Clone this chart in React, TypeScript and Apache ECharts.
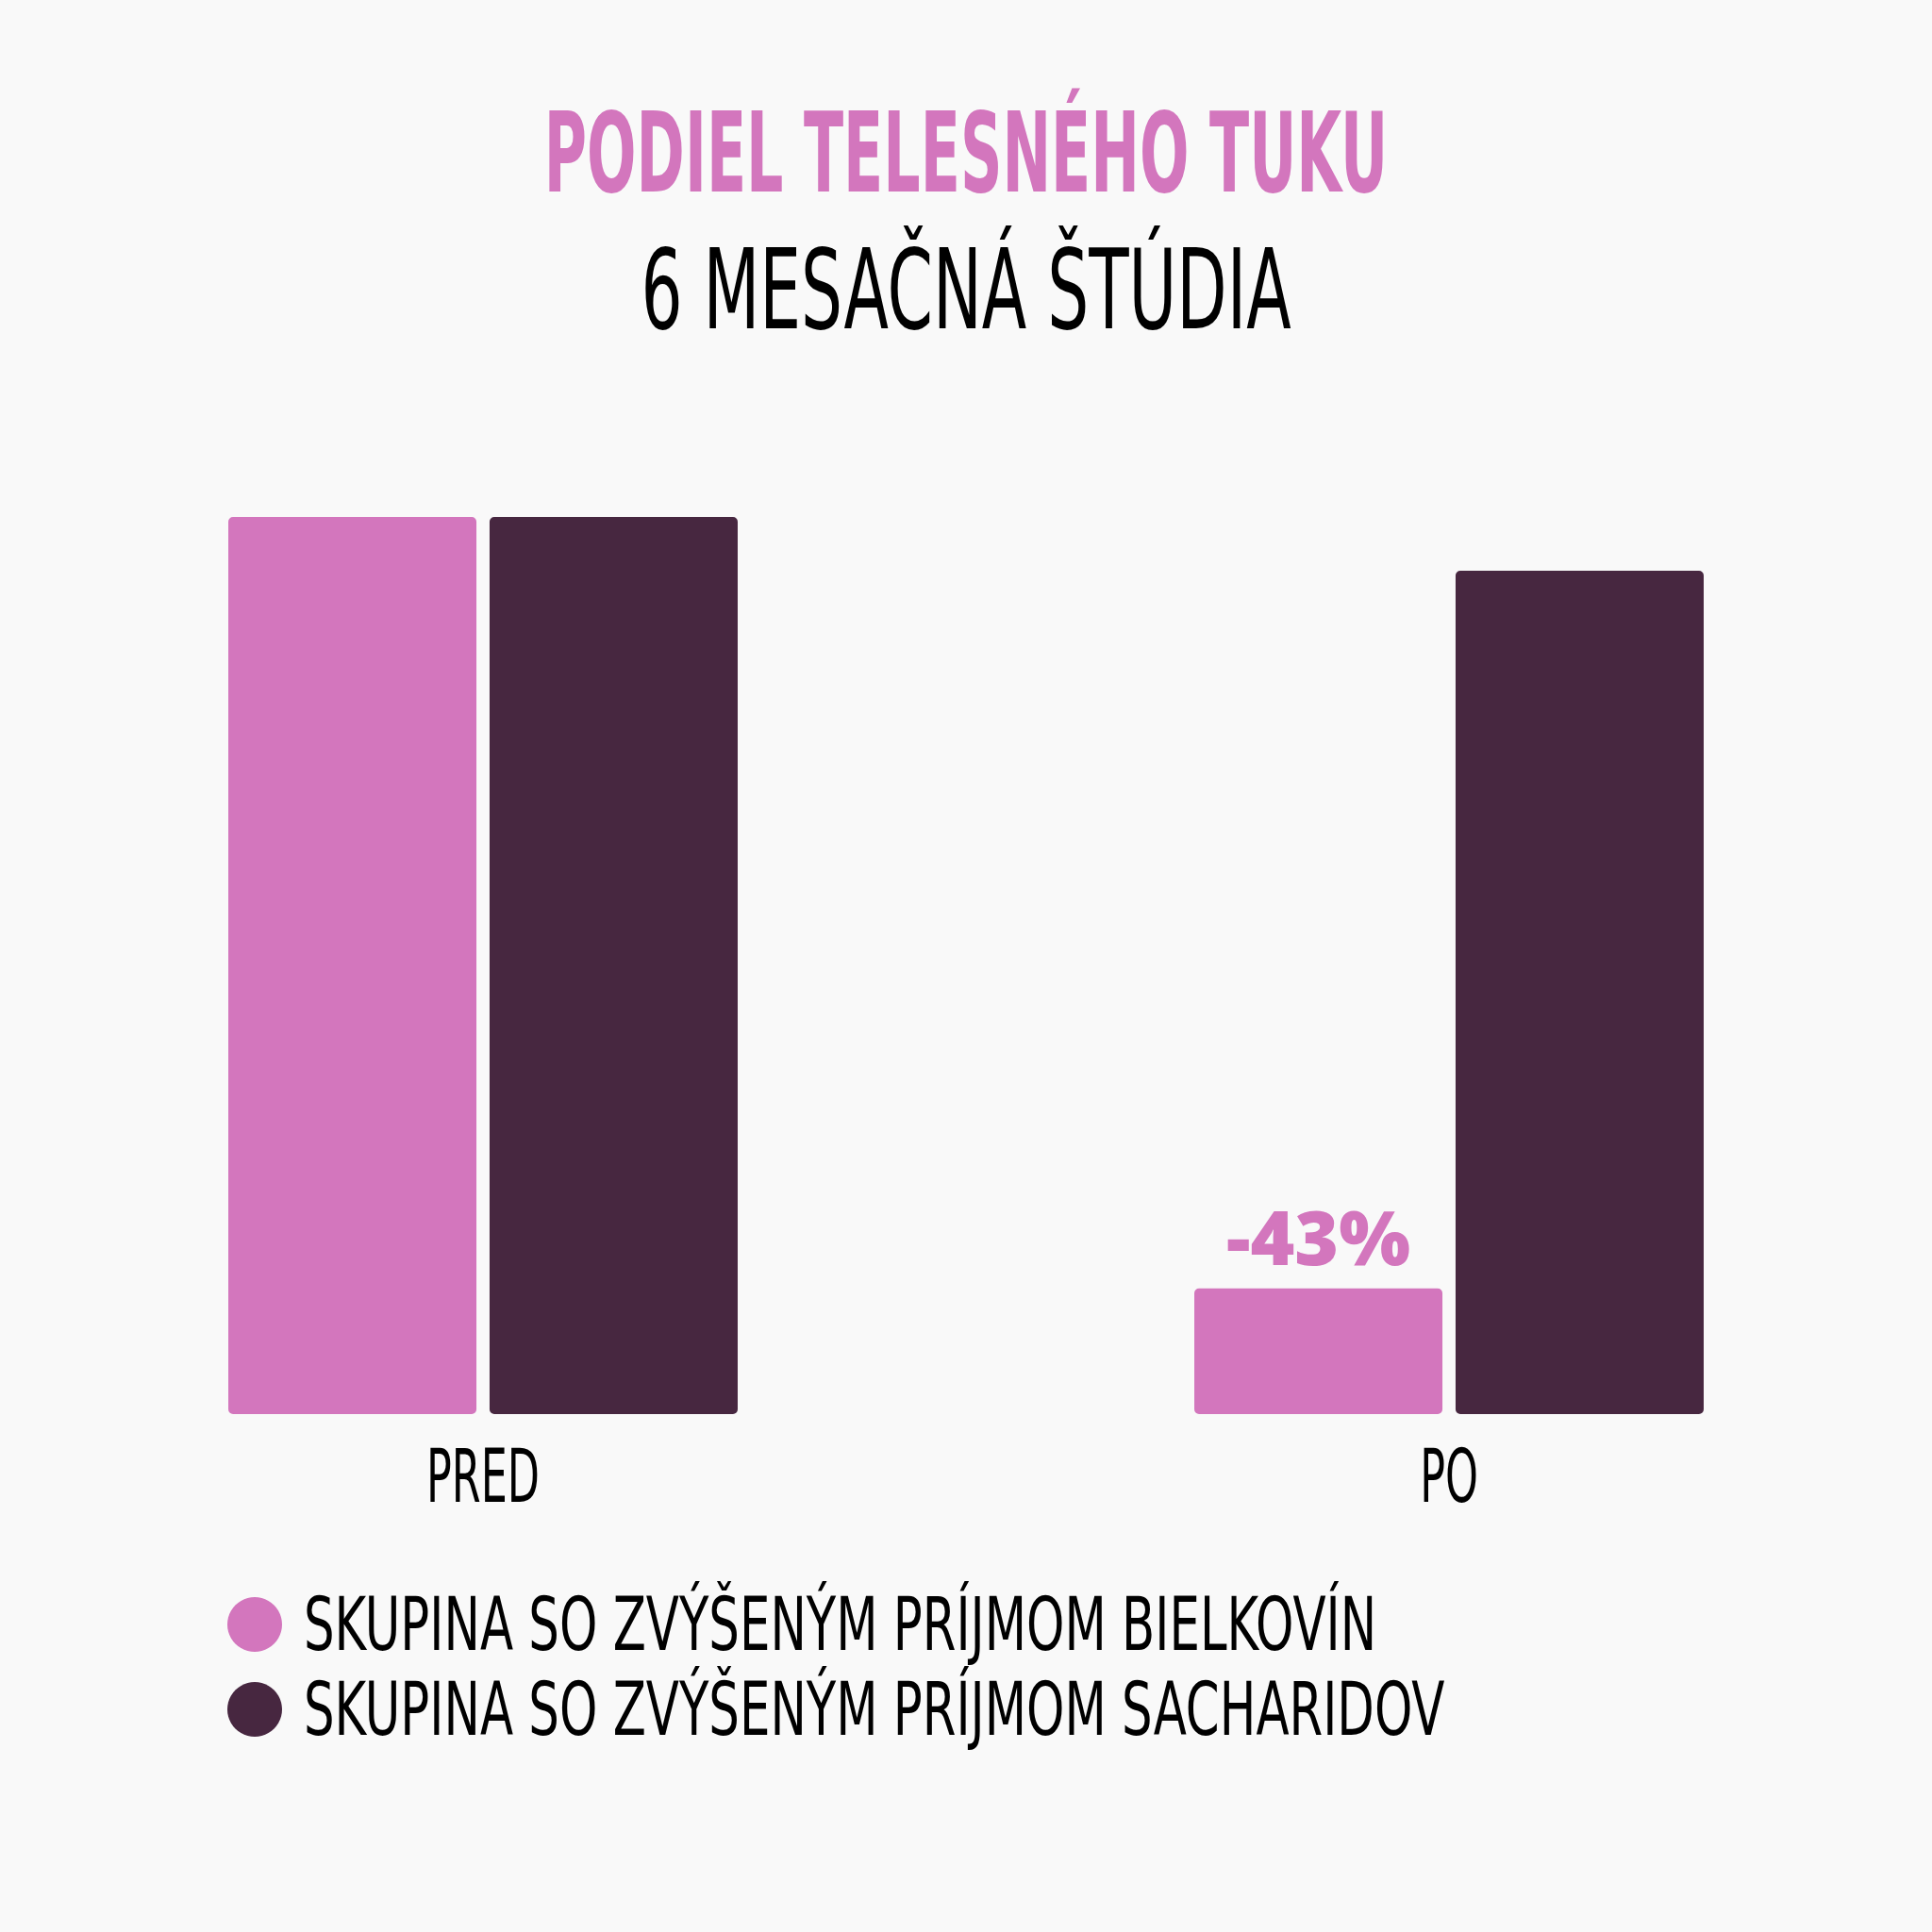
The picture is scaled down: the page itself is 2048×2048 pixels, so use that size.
import React, { useEffect, useRef } from "react";
import * as echarts from "echarts";

const categories = ["PRED", "PO"];
const seriesNames = [
  "SKUPINA SO ZVÝŠENÝM PRÍJMOM BIELKOVÍN",
  "SKUPINA SO ZVÝŠENÝM PRÍJMOM SACHARIDOV",
];
const proteinValues = [100, 57];
const carbValues = [100, 97];
const changeLabel = "-43%";
const titleText = "PODIEL TELESNÉHO TUKU";
const subtitleText = "6 MESAČNÁ ŠTÚDIA";

const PINK = "#d376bd";
const DARK = "#472740";
const BG = "#f9f9f9";
const COND = '"DejaVu Sans Condensed", "Liberation Sans Narrow", sans-serif';

function measure(text: string, weight: string, size: number, family: string) {
  const c = document.createElement("canvas");
  const ctx = c.getContext("2d")!;
  ctx.font = `${weight} ${size}px ${family}`;
  return ctx.measureText(text).width;
}

export default function App() {
  const ref = useRef<HTMLDivElement>(null);
  useEffect(() => {
    if (!ref.current) return;
    const chart = echarts.init(ref.current, null, { renderer: "svg" });
    const tSize = 118;
    const tScale = 895 / measure(titleText, "bold", tSize, COND);
    const sScale = 689 / measure(subtitleText, "normal", tSize, COND);
    const lSize = 78;
    const legendScale = 1137 / measure(seriesNames[0], "normal", lSize, COND);
    const axSize = 78;
    const axisScale = 120 / measure(categories[0], "normal", axSize, COND);

    chart.setOption({
      animation: false,
      backgroundColor: BG,
      grid: { left: 0, right: 0, top: 548, bottom: 549, containLabel: false },
      xAxis: {
        type: "category",
        data: categories,
        axisLine: { show: false },
        axisTick: { show: false },
        axisLabel: {
          color: "#000",
          fontFamily: COND,
          fontSize: axSize,
          margin: 27,
        },
      },
      yAxis: {
        type: "value",
        min: 50,
        max: 100,
        show: false,
        splitLine: { show: false },
      },
      legend: {
        orient: "vertical",
        left: 241,
        top: 1683,
        padding: 0,
        itemWidth: 58,
        itemHeight: 58,
        itemGap: 12,
        icon: "circle",
        data: seriesNames,
        textStyle: { color: "#000", fontFamily: COND, fontSize: lSize },
      },
      graphic: [
        {
          type: "text",
          x: 1024,
          y: 162,
          scaleX: tScale,
          style: {
            text: titleText,
            fill: PINK,
            fontFamily: COND,
            fontWeight: "bold",
            fontSize: tSize,
            align: "center",
            verticalAlign: "middle",
            textAlign: "center",
            textVerticalAlign: "middle",
          },
        },
        {
          type: "text",
          x: 1024,
          y: 308,
          scaleX: sScale,
          style: {
            text: subtitleText,
            fill: "#000",
            fontFamily: COND,
            fontWeight: "normal",
            fontSize: tSize,
            align: "center",
            verticalAlign: "middle",
            textAlign: "center",
            textVerticalAlign: "middle",
          },
        },
      ],
      series: [
        {
          name: seriesNames[0],
          type: "bar",
          barWidth: 263,
          barGap: "5.3%",
          itemStyle: { color: PINK, borderRadius: 5 },
          data: proteinValues.map((v, i) =>
            i === 1
              ? {
                  value: v,
                  label: {
                    show: true,
                    position: "top",
                    distance: 16,
                    formatter: changeLabel,
                    color: PINK,
                    fontFamily: '"Open Sans", sans-serif',
                    fontWeight: 800,
                    fontSize: 80,
                  },
                }
              : v
          ),
        },
        {
          name: seriesNames[1],
          type: "bar",
          barWidth: 263,
          itemStyle: { color: DARK, borderRadius: 5 },
          data: carbValues,
        },
      ],
    });

    // Condense legend and axis label texts horizontally (Bebas-like look).
    const zr: any = chart.getZr();
    const roots: any[] = zr.storage.getRoots();
    const visit = (el: any) => {
      if (el && el.type === "text" && el.style) {
        const t = el.style.text;
        if (seriesNames.includes(t)) {
          el.originX = el.style.x || 0;
          el.scaleX = legendScale;
          el.x = 18;
          el.markRedraw();
        } else if (categories.includes(t)) {
          el.originX = el.style.x || 0;
          el.scaleX = axisScale;
          el.markRedraw();
        }
      }
    };
    roots.forEach((r) => {
      if (r.traverse) r.traverse(visit);
      else visit(r);
    });
    zr.refreshImmediately();

    return () => chart.dispose();
  }, []);
  return (
    <div
      ref={ref}
      style={{ position: "absolute", left: 0, top: 0, width: 2048, height: 2048 }}
    />
  );
}
